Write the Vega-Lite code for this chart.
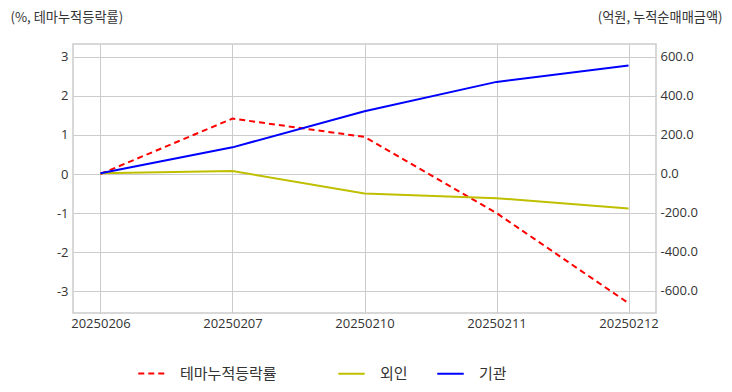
{
  "$schema": "https://vega.github.io/schema/vega-lite/v6.json",
  "autosize": {"type": "none"},
  "padding": {"left": 73, "top": 44, "right": 76, "bottom": 79},
  "width": 583,
  "height": 269,
  "background": "white",
  "config": {
    "font": "Noto Sans CJK KR",
    "view": {"stroke": "#cccccc", "strokeWidth": 1.5},
    "axis": {"labelFont": "Open Sans", "labelFontSize": 13, "labelColor": "#333333", "titleFont": "Noto Sans CJK KR", "titleFontSize": 13.2, "titleFontWeight": "normal", "titleColor": "#333333", "gridColor": "#cccccc", "gridWidth": 1, "domain": false, "ticks": false},
    "legend": {"labelFont": "Noto Sans CJK KR", "labelFontSize": 15, "labelColor": "#333333", "padding": 0}
  },
  "data": {
    "values": [
      {"date": "20250206", "series": "테마누적등락률", "value": 0},
      {"date": "20250207", "series": "테마누적등락률", "value": 1.42},
      {"date": "20250210", "series": "테마누적등락률", "value": 0.95},
      {"date": "20250211", "series": "테마누적등락률", "value": -1.0},
      {"date": "20250212", "series": "테마누적등락률", "value": -3.31},
      {"date": "20250206", "series": "외인", "value": 0},
      {"date": "20250207", "series": "외인", "value": 12},
      {"date": "20250210", "series": "외인", "value": -103},
      {"date": "20250211", "series": "외인", "value": -127},
      {"date": "20250212", "series": "외인", "value": -180},
      {"date": "20250206", "series": "기관", "value": 0},
      {"date": "20250207", "series": "기관", "value": 133},
      {"date": "20250210", "series": "기관", "value": 318},
      {"date": "20250211", "series": "기관", "value": 468},
      {"date": "20250212", "series": "기관", "value": 552}
    ]
  },
  "encoding": {
    "x": {"field": "date", "type": "ordinal", "scale": {"type": "point", "padding": 0.208}, "axis": {"title": null, "labelAngle": 0, "labelPadding": 4, "grid": true}}
  },
  "layer": [
    {
      "transform": [{"filter": "datum.series === '테마누적등락률'"}],
      "mark": {"type": "line", "color": "#ff0000", "strokeWidth": 2},
      "encoding": {
        "y": {"field": "value", "type": "quantitative", "scale": {"domain": [-3.56, 3.33], "nice": false, "zero": false},
          "axis": {"orient": "left", "values": [-3, -2, -1, 0, 1, 2, 3], "format": "d", "labelExpr": "replace(datum.label, '\u2212', '-')", "labelPadding": 5, "title": "(%, 테마누적등락률)", "titleAngle": 0, "titleAlign": "left", "titleBaseline": "alphabetic", "titleX": -63, "titleY": -23}},
        "strokeDash": {"field": "series", "type": "nominal", "scale": {"domain": ["테마누적등락률"], "range": [[6, 4]]},
          "legend": {"title": null, "orient": "none", "legendX": 64, "legendY": 315, "symbolType": "stroke", "symbolSize": 700, "symbolStrokeWidth": 2, "symbolStrokeColor": "#ff0000", "labelOffset": 14}}
      }
    },
    {
      "transform": [{"filter": "datum.series !== '테마누적등락률'"}],
      "mark": {"type": "line", "strokeWidth": 2},
      "encoding": {
        "y": {"field": "value", "type": "quantitative", "scale": {"domain": [-715, 662], "nice": false, "zero": false},
          "axis": {"orient": "right", "values": [-600, -400, -200, 0, 200, 400, 600], "format": ".1f", "labelExpr": "replace(datum.label, '\u2212', '-')", "labelPadding": 4, "title": "(억원, 누적순매매금액)", "titleAngle": 0, "titleAlign": "right", "titleBaseline": "alphabetic", "titleX": 66, "titleY": -23}},
        "color": {"field": "series", "type": "nominal", "scale": {"domain": ["외인", "기관"], "range": ["#bfbf00", "#0000ff"]},
          "legend": {"title": null, "orient": "none", "direction": "horizontal", "legendX": 264, "legendY": 315, "symbolType": "stroke", "symbolSize": 700, "symbolStrokeWidth": 2, "labelOffset": 14, "columnPadding": 25}}
      }
    }
  ],
  "resolve": {"scale": {"y": "independent", "color": "independent", "strokeDash": "independent"}}
}
